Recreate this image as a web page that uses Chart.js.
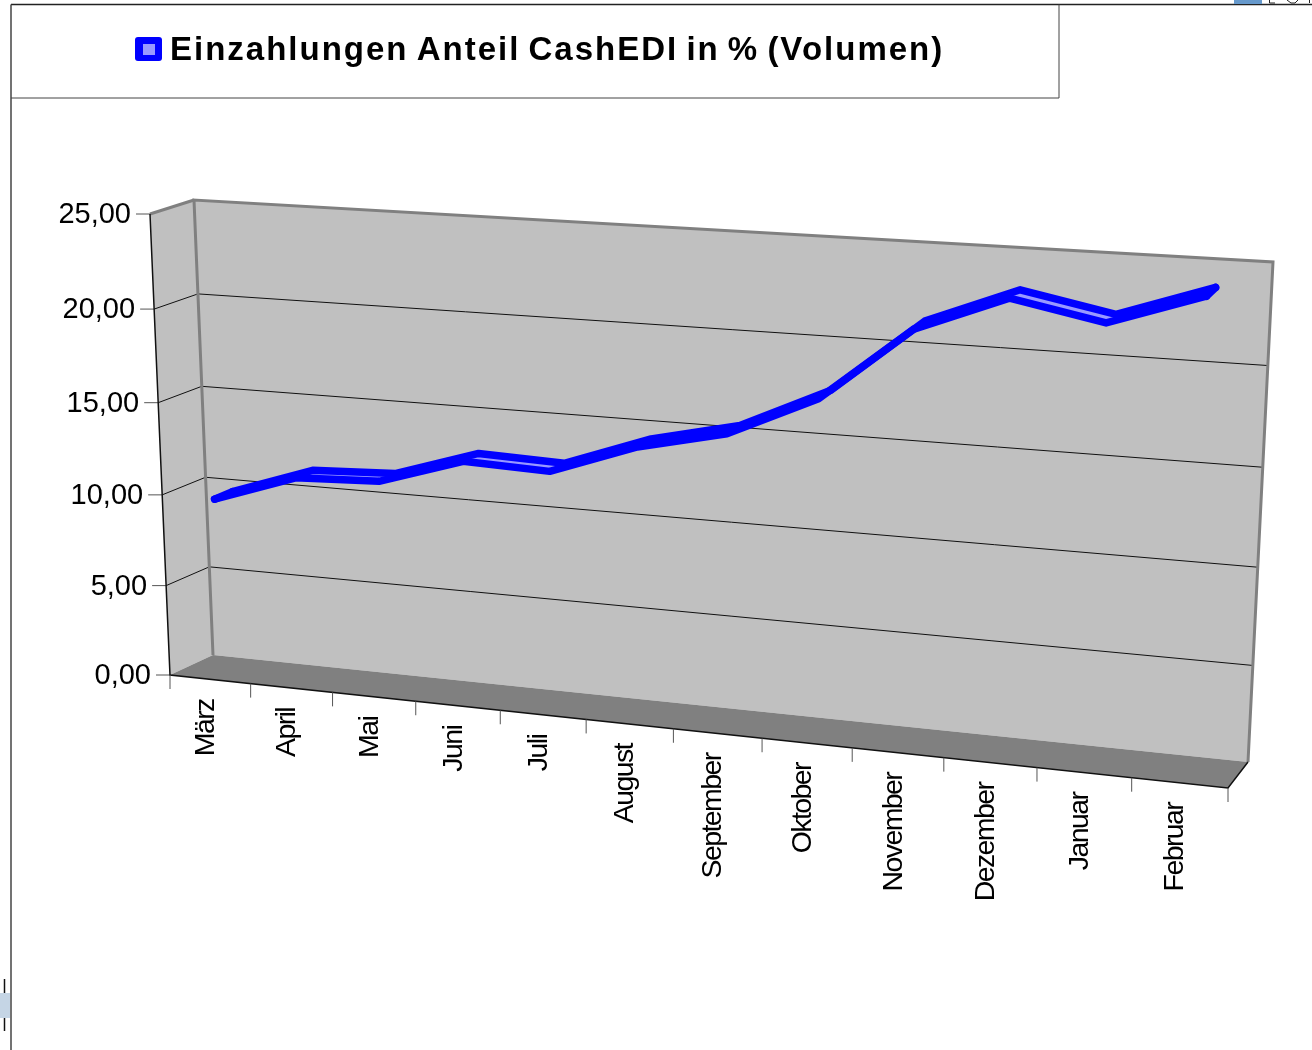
<!DOCTYPE html>
<html>
<head>
<meta charset="utf-8">
<title>Einzahlungen Anteil CashEDI</title>
<script src="https://cdn.jsdelivr.net/npm/chart.js@4"></script>
<style>
    body { margin: 0; background: #fff; overflow: hidden; }
    canvas { position: absolute; left: 0; top: 0; }
</style>
</head>
<body>
<canvas id="chart" width="1312" height="1050"></canvas>
<script>
const months = ['März', 'April', 'Mai', 'Juni', 'Juli', 'August', 'September', 'Oktober', 'November', 'Dezember', 'Januar', 'Februar'];
const cashEdiValues = [9.7, 11.25, 11.45, 12.9, 12.75, 14.4, 15.45, 17.6, 21.4, 23.25, 22.35, 23.95];
const yTickLabels = ['0,00', '5,00', '10,00', '15,00', '20,00', '25,00'];
const titleText = 'Einzahlungen Anteil CashEDI in % (Volumen)';

// corners of the 3D box: top left, top right, bottom right, bottom left
const backWall = [[194, 200], [1273, 262], [1248, 762], [213, 655]];
const frontWall = [[150, 214], [1252, 283], [1228, 788], [170, 675]];
const ribbonDepths = [0.27, 0.69]; // 0 = front, 1 = back

function makeHomography(q) {
    const [[x0, y0], [x1, y1], [x2, y2], [x3, y3]] = q;
    const dx1 = x1 - x2, dx2 = x3 - x2, sx = x0 - x1 + x2 - x3;
    const dy1 = y1 - y2, dy2 = y3 - y2, sy = y0 - y1 + y2 - y3;
    const den = dx1 * dy2 - dx2 * dy1;
    const g = (sx * dy2 - dx2 * sy) / den;
    const h = (dx1 * sy - sx * dy1) / den;
    const a = x1 - x0 + g * x1, b = x3 - x0 + h * x3;
    const d = y1 - y0 + g * y1, e = y3 - y0 + h * y3;
    return (u, v) => {
        const w = g * u + h * v + 1;
        return [(a * u + b * v + x0) / w, (d * u + e * v + y0) / w];
    };
}

const backPlane = makeHomography(backWall);
const frontPlane = makeHomography(frontWall);

// u, v are 0..1 across the chart area, depth goes from front to back
function project(u, v, depth) {
    const f = frontPlane(u, v);
    const b = backPlane(u, v);
    return [f[0] + (b[0] - f[0]) * depth, f[1] + (b[1] - f[1]) * depth];
}

function strokePath(ctx, points, color, width) {
    ctx.beginPath();
    points.forEach((p, i) => i ? ctx.lineTo(p[0], p[1]) : ctx.moveTo(p[0], p[1]));
    ctx.strokeStyle = color;
    ctx.lineWidth = width;
    ctx.stroke();
}

function fillPath(ctx, points, color) {
    ctx.beginPath();
    points.forEach((p, i) => i ? ctx.lineTo(p[0], p[1]) : ctx.moveTo(p[0], p[1]));
    ctx.closePath();
    ctx.fillStyle = color;
    ctx.fill();
}

const box3d = {
    id: 'box3d',
    // move the library's points from the flat chart area into the box
    afterDatasetsUpdate(chart) {
        const area = chart.chartArea;
        chart.data.datasets.forEach((ds, i) => {
            chart.getDatasetMeta(i).data.forEach(pt => {
                const p = project((pt.x - area.left) / area.width, (pt.y - area.top) / area.height, ribbonDepths[i]);
                pt.x = p[0];
                pt.y = p[1];
            });
        });
    },
    // runs before the filler plugin paints the ribbon
    beforeDraw(chart) {
        const ctx = chart.ctx;
        const area = chart.chartArea;
        const x = chart.scales.x;
        const y = chart.scales.y;
        const step = x.getPixelForValue(1) - x.getPixelForValue(0);
        const uAt = i => (x.getPixelForValue(0) - step / 2 + step * i - area.left) / area.width;

        ctx.save();
        ctx.lineCap = 'butt';

        // outer frame and clipped neighbours
        strokePath(ctx, [[11, 4.5], [1312, 4.5]], '#222', 1.3);
        strokePath(ctx, [[11, 4.5], [11, 1050]], '#444', 1.5);
        strokePath(ctx, [[11, 98], [1059, 98], [1059, 4.5]], '#444', 1);
        ctx.fillStyle = '#6699cc';
        ctx.fillRect(1234, 0, 28, 4);
        strokePath(ctx, [[1269.5, 0], [1269.5, 3], [1275, 3]], '#222', 1);
        strokePath(ctx, [[1287, 0], [1291, 3], [1295, 3], [1298, 0]], '#222', 1);
        strokePath(ctx, [[1309.5, 0], [1309.5, 3]], '#222', 1);
        strokePath(ctx, [[4.5, 979], [4.5, 1031]], '#111', 1.5);
        ctx.fillStyle = '#c5d5e5';
        ctx.fillRect(0, 993, 10, 25);

        // title with legend key
        ctx.fillStyle = '#0000ff';
        ctx.beginPath();
        ctx.roundRect(135, 37, 27, 24, 3);
        ctx.fill();
        ctx.fillStyle = '#9999ff';
        ctx.fillRect(143, 44, 12, 11);
        ctx.fillStyle = '#000';
        ctx.font = 'bold 33px "Liberation Sans"';
        ctx.letterSpacing = '2px';
        ctx.wordSpacing = '-3px';
        ctx.textAlign = 'left';
        ctx.textBaseline = 'alphabetic';
        ctx.fillText(titleText, 170, 60);
        ctx.letterSpacing = '0px';
        ctx.wordSpacing = '0px';

        // walls and floor
        fillPath(ctx, backWall, '#c0c0c0');
        fillPath(ctx, [frontWall[0], backWall[0], backWall[3], frontWall[3]], '#c0c0c0');
        fillPath(ctx, [frontWall[3], backWall[3], backWall[2], frontWall[2]], '#808080');

        // horizontal grid on side and back wall, tick marks and labels
        y.ticks.forEach((tick, i) => {
            const v = (y.getPixelForValue(tick.value) - area.top) / area.height;
            const front = project(0, v, 0);
            const back = project(0, v, 1);
            const right = project(1, v, 1);
            if (i > 0) {
                strokePath(ctx, [front, back, right], '#111', 1);
            }
            strokePath(ctx, [[front[0] - 14, front[1]], front], '#555', 1);
            ctx.fillStyle = '#000';
            ctx.font = '29px "Liberation Sans"';
            ctx.textAlign = 'right';
            ctx.textBaseline = 'middle';
            ctx.fillText(tick.label, front[0] - 19, front[1] + 1);
        });

        strokePath(ctx, [backWall[3], backWall[0], backWall[1], backWall[2]], '#808080', 3);
        strokePath(ctx, [frontWall[0], backWall[0]], '#808080', 3);
        strokePath(ctx, [frontWall[0], frontWall[3], frontWall[2], backWall[2]], '#111', 1.5);

        // category ticks on the front edge
        for (let i = 0; i <= months.length; i++) {
            const p = project(uAt(i), 1, 0);
            strokePath(ctx, [p, [p[0], p[1] + 14]], '#555', 1);
        }

        // rotated month names
        ctx.fillStyle = '#000';
        ctx.font = '28.5px "Liberation Sans"';
        ctx.letterSpacing = '-1.6px';
        ctx.textAlign = 'right';
        ctx.textBaseline = 'middle';
        months.forEach((name, i) => {
            const p = project((x.getPixelForValue(i) - area.left) / area.width, 1, 0);
            ctx.save();
            ctx.translate(p[0] - 4, p[1] + 20);
            ctx.rotate(-Math.PI / 2);
            ctx.fillText(name, 0, 0);
            ctx.restore();
        });
        ctx.restore();
    },
    afterDatasetsDraw(chart) {
        // close both ends of the ribbon
        const a = chart.getDatasetMeta(0).data;
        const b = chart.getDatasetMeta(1).data;
        const ctx = chart.ctx;
        ctx.save();
        ctx.lineCap = 'round';
        [0, a.length - 1].forEach(i => strokePath(ctx, [[a[i].x, a[i].y], [b[i].x, b[i].y]], '#0000ff', 7.5));
        ctx.restore();
    }
};

function ribbonEdge(label, fill) {
    return {
        label: label,
        data: cashEdiValues,
        borderColor: '#0000ff',
        backgroundColor: '#9999ff',
        borderWidth: 7.5,
        borderJoinStyle: 'round',
        borderCapStyle: 'round',
        pointRadius: 0,
        tension: 0,
        fill: fill,
        clip: false
    };
}

new Chart(document.getElementById('chart'), {
    type: 'line',
    data: {
        labels: months,
        datasets: [ribbonEdge(titleText, '+1'), ribbonEdge(titleText, false)]
    },
    options: {
        responsive: false,
        animation: false,
        events: [],
        layout: { padding: 0 },
        plugins: {
            filler: { drawTime: 'beforeDatasetsDraw' },
            legend: { display: false },
            title: { display: false },
            tooltip: { enabled: false }
        },
        scales: {
            x: { display: false, offset: true },
            y: {
                display: false,
                min: 0,
                max: 25,
                ticks: {
                    stepSize: 5,
                    callback: (value, index) => yTickLabels[index]
                }
            }
        }
    },
    plugins: [box3d]
});
</script>
</body>
</html>
